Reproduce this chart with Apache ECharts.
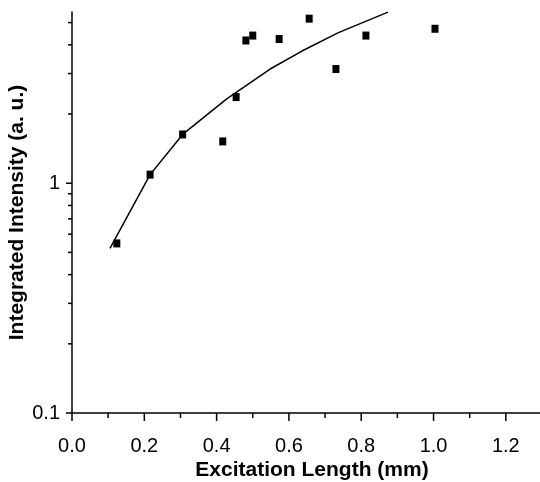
<!DOCTYPE html>
<html>
<head>
<meta charset="utf-8">
<script src="https://cdn.jsdelivr.net/npm/echarts@6/dist/echarts.min.js"></script>
<style>
html,body{margin:0;padding:0;background:#fff;}
#chart{width:540px;height:482px;}
</style>
</head>
<body>
<div id="chart"></div>
<script>
// Measured data points (excitation length mm, integrated intensity a.u.)
var pointX = [0.124, 0.216, 0.306, 0.417, 0.454, 0.481, 0.500, 0.573, 0.656, 0.730, 0.813, 1.004];
var pointY = [0.547, 1.09, 1.63, 1.52, 2.37, 4.18, 4.39, 4.24, 5.20, 3.14, 4.39, 4.70];
// Fit curve
var fitX = [0.105, 0.216, 0.306, 0.428, 0.548, 0.636, 0.737, 0.874];
var fitY = [0.52, 1.09, 1.63, 2.33, 3.14, 3.76, 4.52, 5.55];
// Axis ticks
var xMajorTicks = [0, 0.2, 0.4, 0.6, 0.8, 1.0, 1.2];
var xMinorTicks = [0.1, 0.3, 0.5, 0.7, 0.9, 1.1];
var yMajorTicks = [0.1, 1];
var yMinorTicks = [0.2, 0.3, 0.4, 0.5, 0.6, 0.7, 0.8, 0.9, 2, 3, 4, 5];
var xMin = 0, xMax = 1.3, yMin = 0.1, yMax = 5.56;

function zip(a, b) { return a.map(function (v, i) { return [v, b[i]]; }); }

function tickSeries(data, dir, len) {
  return {
    type: 'custom',
    clip: false,
    silent: true,
    z: 5,
    data: data,
    renderItem: function (params, api) {
      var p = api.coord([api.value(0), api.value(1)]);
      var x2 = p[0], y2 = p[1];
      if (dir === 'down') y2 = p[1] + len; else x2 = p[0] - len;
      return {
        type: 'line',
        shape: { x1: p[0], y1: p[1], x2: x2, y2: y2 },
        style: { stroke: '#000', lineWidth: 1.5, opacity: 1 }
      };
    }
  };
}

var chart = echarts.init(document.getElementById('chart'), null, { renderer: 'canvas' });
var font = '"Liberation Sans", Arial, Helvetica, sans-serif';
chart.setOption({
  animation: false,
  backgroundColor: '#fff',
  grid: { left: 72, right: -2, top: 12, bottom: 69, containLabel: false, outerBoundsMode: 'none' },
  xAxis: {
    type: 'value', min: xMin, max: xMax, interval: 0.2,
    name: 'Excitation Length (mm)', nameLocation: 'middle', nameGap: 47, nameMoveOverlap: false,
    nameTextStyle: { fontFamily: font, fontWeight: 'bold', fontSize: 21, color: '#000', padding: [0, 0, 0, 10] },
    axisLine: { show: true, lineStyle: { color: '#000', width: 1.5 } },
    axisTick: { show: false },
    splitLine: { show: false },
    axisLabel: {
      margin: 23, fontFamily: font, fontSize: 20, color: '#000', showMaxLabel: false,
      formatter: function (v) { return v.toFixed(1); }
    }
  },
  yAxis: {
    type: 'log', logBase: 10, min: yMin, max: yMax, interval: 1,
    name: 'Integrated Intensity (a. u.)', nameLocation: 'middle', nameGap: 44, nameMoveOverlap: false,
    nameTextStyle: { fontFamily: font, fontWeight: 'bold', fontSize: 21, color: '#000' },
    axisLine: { show: true, lineStyle: { color: '#000', width: 1.5 } },
    axisTick: { show: false },
    splitLine: { show: false },
    minorTick: { show: false },
    axisLabel: {
      margin: 12, fontFamily: font, fontSize: 20, color: '#000', showMaxLabel: false,
      formatter: function (v) { return v >= 1 ? String(Math.round(v)) : String(+v.toFixed(1)); }
    }
  },
  series: [
    {
      type: 'line', data: zip(fitX, fitY), showSymbol: false, symbol: 'none',
      lineStyle: { color: '#000', width: 1.5 }, z: 3
    },
    {
      type: 'scatter', data: zip(pointX, pointY), symbol: 'rect', symbolSize: [7, 8],
      itemStyle: { color: '#000', opacity: 1 }, z: 4
    },
    tickSeries(xMajorTicks.map(function (v) { return [v, yMin]; }), 'down', 8),
    tickSeries(xMinorTicks.map(function (v) { return [v, yMin]; }), 'down', 5),
    tickSeries(yMajorTicks.map(function (v) { return [xMin, v]; }), 'left', 6),
    tickSeries(yMinorTicks.map(function (v) { return [xMin, v]; }), 'left', 4)
  ]
});
</script>
</body>
</html>
